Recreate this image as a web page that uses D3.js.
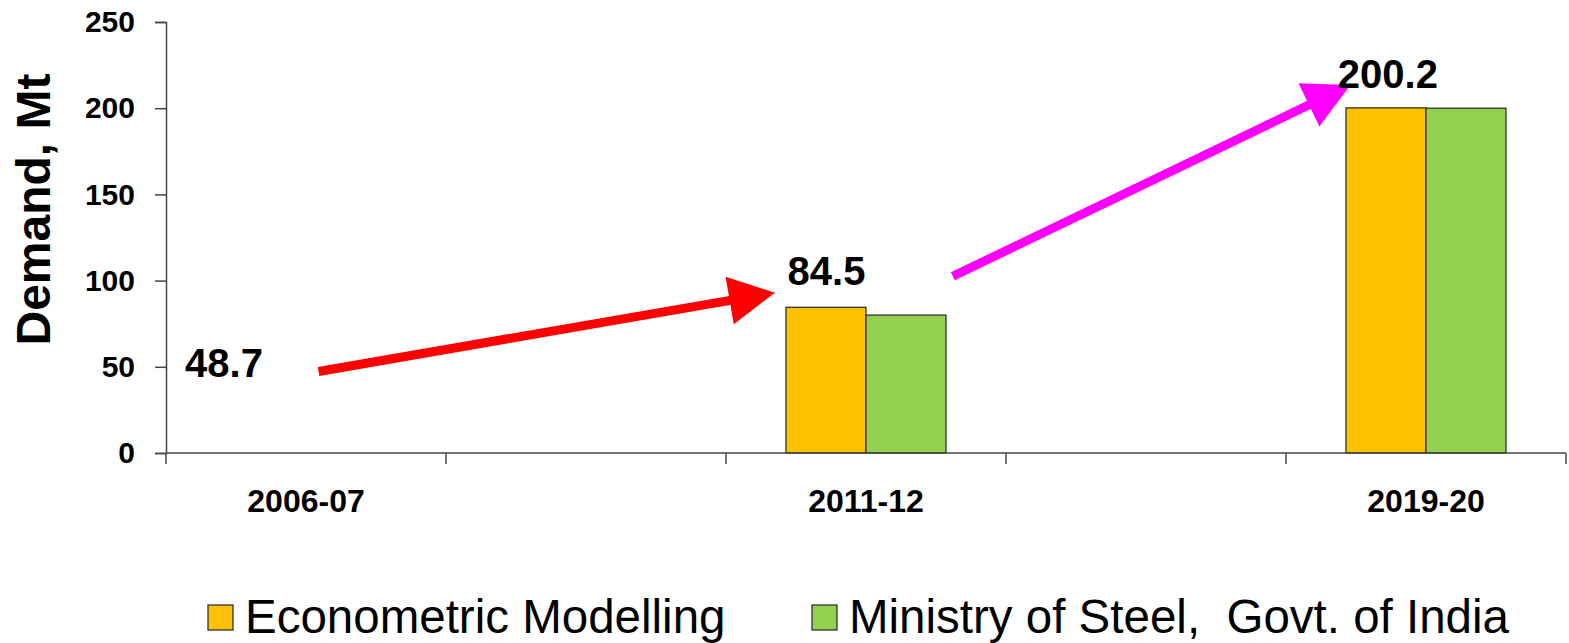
<!DOCTYPE html>
<html><head><meta charset="utf-8">
<script src="https://cdn.jsdelivr.net/npm/d3@7"></script>
<style>
body{margin:0;background:#fff;}
svg{display:block;font-family:"Liberation Sans",Arial,sans-serif;}
</style></head>
<body><svg id="c" width="1569" height="643"></svg>
<script>
// Data
const categories = ["2006-07", "gap1", "2011-12", "gap2", "2019-20"];
const categoryLabels = ["2006-07", "", "2011-12", "", "2019-20"];
const seriesNames = ["Econometric Modelling", "Ministry of Steel,  Govt. of India"];
const econometric = [null, null, 84.5, null, 200.2];
const ministry = [null, null, 80.0, null, 200.0];
const yTicks = [0, 50, 100, 150, 200, 250];
const colors = ["#FFC000", "#92D050"];
// annotation labels: [text, category, fraction within band, value at baseline]
const annoLabels = [["48.7", "2006-07", 0.068, 43.9], ["84.5", "2011-12", 0.22, 97.3], ["200.2", "2019-20", 0.185, 211.7]];
// arrows: [from cat, frac, value, to cat, frac, value, color]
const arrows = [
  ["2006-07", 0.545, 47.3, "2011-12", 0.175, 93.0, "#FF0000"],
  ["2011-12", 0.81, 102.5, "2019-20", 0.23, 213.5, "#FF00FF"]
];

const svg = d3.select("#c");
const m = {l:166, r:3, t:22, b:190};
const W = 1569, H = 643;
const x = d3.scaleBand().domain(categories).range([m.l, W - m.r]).padding(0);
const y = d3.scaleLinear().domain([0, 250]).range([H - m.b, m.t]);
const barW = 80;
const xs = d3.scaleBand().domain([0,1]).range([0, barW*2]);

// bars
const series = [econometric, ministry];
series.forEach((vals, si) => {
  svg.append("g").selectAll("rect")
    .data(categories.map((c,i)=>({c, v: vals[i]})).filter(d=>d.v!=null))
    .join("rect")
    .attr("x", d => x(d.c) + (x.bandwidth() - barW*2)/2 + xs(si))
    .attr("y", d => y(d.v))
    .attr("width", xs.bandwidth())
    .attr("height", d => y(0) - y(d.v))
    .attr("fill", colors[si])
    .attr("stroke", "#333")
    .attr("stroke-width", 1.3);
});

// y axis
const yAxis = svg.append("g").attr("transform", `translate(${m.l},0)`)
  .call(d3.axisLeft(y).tickValues(yTicks).tickSize(11).tickPadding(20));
yAxis.select(".domain").attr("stroke", "#444").attr("stroke-width", 1.5);
yAxis.selectAll(".tick line").attr("stroke", "#444").attr("stroke-width", 1.5);
yAxis.selectAll("text").attr("font-size", 30).attr("font-weight", "bold").attr("fill", "#000")
  .attr("font-family", "Liberation Sans, Arial, sans-serif");

// x axis with ticks at band boundaries
const xAxisG = svg.append("g").attr("transform", `translate(0,${y(0)})`);
xAxisG.append("line").attr("x1", m.l).attr("x2", W - m.r).attr("y1", 0).attr("y2", 0)
  .attr("stroke", "#444").attr("stroke-width", 1.5);
const bounds = categories.map(c => x(c)).concat([x(categories[categories.length-1]) + x.bandwidth()]);
xAxisG.selectAll("line.t").data(bounds).join("line").attr("class","t")
  .attr("x1", d=>d).attr("x2", d=>d).attr("y1", 0).attr("y2", 11)
  .attr("stroke", "#444").attr("stroke-width", 1.5);
xAxisG.selectAll("text").data(categories).join("text")
  .attr("x", d => x(d) + x.bandwidth()/2).attr("y", 59)
  .attr("text-anchor", "middle").attr("font-size", 32).attr("font-weight", "bold")
  .text((d,i) => categoryLabels[i]);

// y title
svg.append("text").attr("transform", `translate(50,${(m.t + y(0))/2 - 28}) rotate(-90)`)
  .attr("text-anchor", "middle").attr("font-size", 48).attr("font-weight", "bold")
  .text("Demand, Mt");

// arrows
arrows.forEach(a => {
  const x1 = x(a[0]) + a[1]*x.bandwidth(), y1 = y(a[2]);
  const x2 = x(a[3]) + a[4]*x.bandwidth(), y2 = y(a[5]);
  const dx = x2 - x1, dy = y2 - y1, L = Math.hypot(dx, dy);
  const ux = dx/L, uy = dy/L, px = -uy, py = ux;
  const hl = 46, hw = 24;
  const bx = x2 - ux*hl, by = y2 - uy*hl;
  svg.append("line").attr("x1", x1).attr("y1", y1).attr("x2", bx + ux*2).attr("y2", by + uy*2)
    .attr("stroke", a[6]).attr("stroke-width", 9);
  svg.append("polygon").attr("points", [[x2,y2],[bx+px*hw, by+py*hw],[bx-px*hw, by-py*hw]].map(p=>p.join(",")).join(" "))
    .attr("fill", a[6]);
});

// annotation labels
svg.selectAll("text.anno").data(annoLabels).join("text").attr("class","anno")
  .attr("x", d => x(d[1]) + d[2]*x.bandwidth()).attr("y", d => y(d[3]))
  .attr("font-size", 40).attr("font-weight", "bold").text(d => d[0]);

// legend
const legX = [208, 812];
const lg = svg.append("g");
seriesNames.forEach((n, i) => {
  lg.append("rect").attr("x", legX[i]).attr("y", 605).attr("width", 25).attr("height", 25)
    .attr("fill", colors[i]).attr("stroke", "#333").attr("stroke-width", 1.3);
  lg.append("text").attr("x", legX[i] + 37).attr("y", 633).attr("font-size", 47.5)
    .style("white-space", "pre").text(n);
});
</script>
</body></html>
